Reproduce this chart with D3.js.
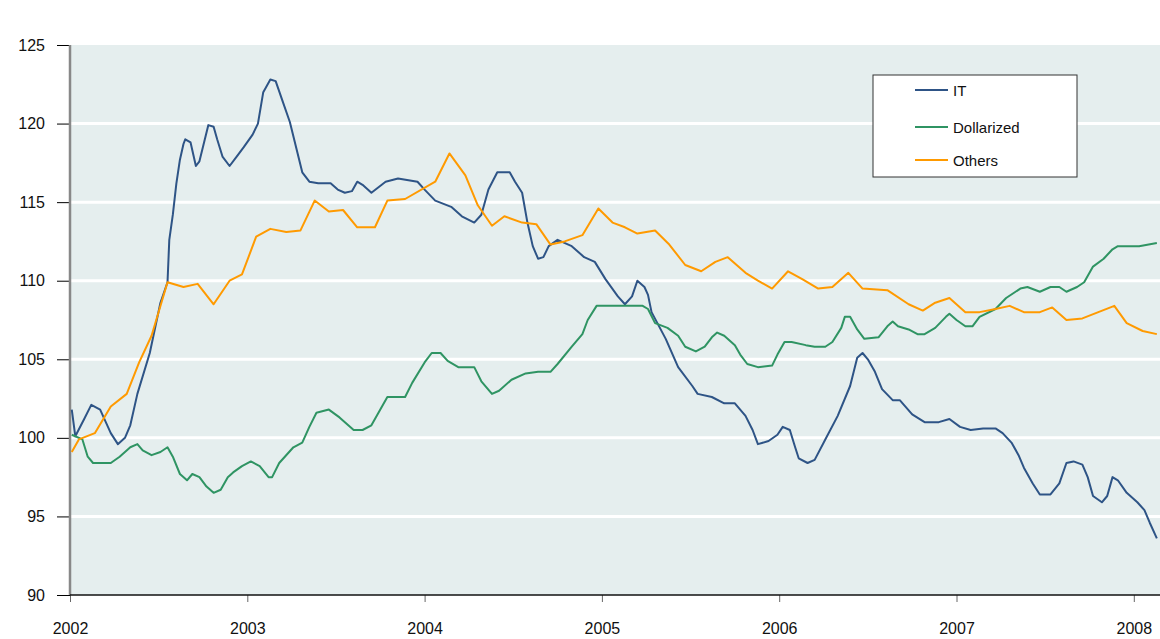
<!DOCTYPE html>
<html>
<head>
<meta charset="utf-8">
<script src="https://cdn.jsdelivr.net/npm/d3@7"></script>
<style>
  body { margin: 0; background: #fff; }
  svg text { font-family: "Liberation Sans", Arial, sans-serif; fill: #111; }
</style>
</head>
<body>
<div id="chart"></div>
<script>
// decimal years and index values
const itYears = [2002.01,2002.03,2002.08,2002.12,2002.17,2002.23,2002.27,2002.31,2002.34,2002.38,2002.45,2002.51,2002.55,2002.56,2002.58,2002.60,2002.62,2002.64,2002.65,2002.68,2002.71,2002.73,2002.78,2002.81,2002.83,2002.86,2002.90,2002.94,2002.98,2003.03,2003.06,2003.09,2003.13,2003.16,2003.20,2003.24,2003.31,2003.35,2003.40,2003.47,2003.51,2003.55,2003.59,2003.62,2003.65,2003.70,2003.78,2003.85,2003.96,2004.00,2004.06,2004.15,2004.21,2004.28,2004.32,2004.36,2004.41,2004.48,2004.51,2004.55,2004.58,2004.61,2004.64,2004.67,2004.70,2004.75,2004.83,2004.90,2004.96,2005.02,2005.09,2005.13,2005.17,2005.20,2005.24,2005.26,2005.28,2005.36,2005.43,2005.51,2005.54,2005.62,2005.69,2005.75,2005.81,2005.85,2005.88,2005.94,2005.99,2006.02,2006.06,2006.09,2006.11,2006.16,2006.20,2006.26,2006.33,2006.40,2006.44,2006.47,2006.50,2006.54,2006.58,2006.64,2006.68,2006.75,2006.82,2006.90,2006.96,2007.02,2007.08,2007.15,2007.22,2007.26,2007.31,2007.35,2007.38,2007.43,2007.47,2007.53,2007.58,2007.62,2007.66,2007.71,2007.74,2007.77,2007.82,2007.85,2007.88,2007.91,2007.96,2008.02,2008.06,2008.09,2008.13];
const itValues = [101.8,100.1,101.2,102.1,101.8,100.3,99.6,100.0,100.8,102.8,105.4,108.6,109.9,112.6,114.2,116.2,117.7,118.7,119.0,118.8,117.3,117.6,119.9,119.8,119.0,117.9,117.3,117.9,118.5,119.3,120.0,122.0,122.8,122.7,121.4,120.1,116.9,116.3,116.2,116.2,115.8,115.6,115.7,116.3,116.1,115.6,116.3,116.5,116.3,115.8,115.1,114.7,114.1,113.7,114.2,115.8,116.9,116.9,116.3,115.6,113.7,112.2,111.4,111.5,112.2,112.6,112.2,111.5,111.2,110.1,109.0,108.5,109.0,110.0,109.6,109.1,108.0,106.3,104.5,103.3,102.8,102.6,102.2,102.2,101.4,100.5,99.6,99.8,100.2,100.7,100.5,99.4,98.7,98.4,98.6,99.9,101.4,103.3,105.1,105.4,105.0,104.2,103.1,102.4,102.4,101.5,101.0,101.0,101.2,100.7,100.5,100.6,100.6,100.3,99.7,98.9,98.1,97.1,96.4,96.4,97.1,98.4,98.5,98.3,97.5,96.3,95.9,96.3,97.5,97.3,96.5,95.9,95.4,94.6,93.6];

const dolYears = [2002.01,2002.07,2002.10,2002.13,2002.23,2002.28,2002.34,2002.38,2002.41,2002.46,2002.51,2002.55,2002.58,2002.62,2002.66,2002.69,2002.73,2002.77,2002.81,2002.85,2002.89,2002.92,2002.97,2003.02,2003.07,2003.12,2003.14,2003.18,2003.26,2003.31,2003.35,2003.39,2003.46,2003.52,2003.60,2003.65,2003.70,2003.79,2003.89,2003.93,2004.00,2004.04,2004.09,2004.13,2004.19,2004.28,2004.32,2004.38,2004.42,2004.49,2004.57,2004.64,2004.71,2004.75,2004.83,2004.89,2004.92,2004.97,2005.03,2005.17,2005.23,2005.26,2005.30,2005.37,2005.43,2005.47,2005.53,2005.58,2005.62,2005.65,2005.69,2005.75,2005.78,2005.82,2005.88,2005.96,2005.99,2006.03,2006.07,2006.15,2006.20,2006.26,2006.30,2006.35,2006.37,2006.40,2006.44,2006.48,2006.56,2006.61,2006.64,2006.67,2006.73,2006.78,2006.82,2006.88,2006.94,2006.96,2007.00,2007.05,2007.09,2007.13,2007.22,2007.28,2007.36,2007.40,2007.47,2007.53,2007.58,2007.62,2007.68,2007.72,2007.77,2007.83,2007.88,2007.91,2008.03,2008.13];
const dolValues = [100.2,99.9,98.8,98.4,98.4,98.8,99.4,99.6,99.2,98.9,99.1,99.4,98.8,97.7,97.3,97.7,97.5,96.9,96.5,96.7,97.5,97.8,98.2,98.5,98.2,97.5,97.5,98.4,99.4,99.7,100.7,101.6,101.8,101.3,100.5,100.5,100.8,102.6,102.6,103.5,104.8,105.4,105.4,104.9,104.5,104.5,103.6,102.8,103.0,103.7,104.1,104.2,104.2,104.7,105.8,106.6,107.5,108.4,108.4,108.4,108.4,108.2,107.3,107.0,106.5,105.8,105.5,105.8,106.4,106.7,106.5,105.9,105.3,104.7,104.5,104.6,105.3,106.1,106.1,105.9,105.8,105.8,106.1,107.0,107.7,107.7,106.9,106.3,106.4,107.1,107.4,107.1,106.9,106.6,106.6,107.0,107.7,107.9,107.5,107.1,107.1,107.7,108.2,108.9,109.5,109.6,109.3,109.6,109.6,109.3,109.6,109.9,110.9,111.4,112.0,112.2,112.2,112.4];

const othYears = [2002.01,2002.05,2002.14,2002.23,2002.32,2002.39,2002.46,2002.55,2002.64,2002.72,2002.81,2002.90,2002.97,2003.05,2003.13,2003.22,2003.30,2003.38,2003.46,2003.54,2003.62,2003.72,2003.79,2003.89,2004.06,2004.14,2004.23,2004.30,2004.38,2004.45,2004.55,2004.63,2004.71,2004.79,2004.89,2004.98,2005.06,2005.13,2005.20,2005.30,2005.38,2005.47,2005.56,2005.64,2005.71,2005.81,2005.88,2005.96,2006.05,2006.13,2006.22,2006.30,2006.39,2006.47,2006.61,2006.73,2006.81,2006.88,2006.96,2007.05,2007.13,2007.22,2007.30,2007.38,2007.47,2007.54,2007.62,2007.71,2007.89,2007.96,2008.05,2008.13];
const othValues = [99.1,99.9,100.3,102.0,102.8,104.8,106.5,109.9,109.6,109.8,108.5,110.0,110.4,112.8,113.3,113.1,113.2,115.1,114.4,114.5,113.4,113.4,115.1,115.2,116.3,118.1,116.7,114.8,113.5,114.1,113.7,113.6,112.3,112.5,112.9,114.6,113.7,113.4,113.0,113.2,112.3,111.0,110.6,111.2,111.5,110.5,110.0,109.5,110.6,110.1,109.5,109.6,110.5,109.5,109.4,108.5,108.1,108.6,108.9,108.0,108.0,108.2,108.4,108.0,108.0,108.3,107.5,107.6,108.4,107.3,106.8,106.6];

const yearTicks = [2002, 2003, 2004, 2005, 2006, 2007, 2008];
const valueTicks = [90, 95, 100, 105, 110, 115, 120, 125];
const seriesNames = ["IT", "Dollarized", "Others"];
const seriesColors = ["#2e5486", "#2f9463", "#ff9a00"];

const W = 1160, H = 639;
const margin = {top: 45, right: 0, bottom: 44, left: 70};
const width = W - margin.left - margin.right;
const height = H - margin.top - margin.bottom;

const svg = d3.select("#chart").append("svg")
    .attr("width", W).attr("height", H);
const g = svg.append("g")
    .attr("transform", "translate(" + margin.left + "," + margin.top + ")");

const x = d3.scaleLinear().domain([2002, 2002 + width / 177.3]).range([0, width]);
const y = d3.scaleLinear().domain([90, 125]).range([height, 0]);

// plot background
g.append("rect").attr("width", width).attr("height", height).attr("fill", "#e5eeee");

// white gridlines
g.selectAll(".grid").data(valueTicks.filter(v => v > 90 && v < 125))
  .enter().append("line")
    .attr("x1", 0).attr("x2", width)
    .attr("y1", d => y(d)).attr("y2", d => y(d))
    .attr("stroke", "#fff").attr("stroke-width", 3);

// y axis
const yAxis = g.append("g")
    .call(d3.axisLeft(y).tickValues(valueTicks).tickSize(13).tickPadding(12).tickFormat(d3.format("d")));
yAxis.select(".domain").remove();
yAxis.selectAll("text").style("font-size", "16px");
g.append("line").attr("x1", 0).attr("x2", 0).attr("y1", 0).attr("y2", height)
    .attr("stroke", "#888").attr("stroke-width", 2.5);

// x axis
const xAxis = g.append("g").attr("transform", "translate(0," + height + ")")
    .call(d3.axisBottom(x).tickValues(yearTicks).tickSize(7).tickPadding(21).tickFormat(d3.format("d")));
xAxis.select(".domain").remove();
xAxis.selectAll(".tick line").attr("stroke", "#666");
xAxis.selectAll("text").style("font-size", "16px");
g.append("line").attr("x1", 0).attr("x2", width).attr("y1", height).attr("y2", height)
    .attr("stroke", "#111").attr("stroke-width", 1.5);

// series
const series = [
  {name: seriesNames[0], years: itYears, values: itValues, color: seriesColors[0]},
  {name: seriesNames[1], years: dolYears, values: dolValues, color: seriesColors[1]},
  {name: seriesNames[2], years: othYears, values: othValues, color: seriesColors[2]}
];
const line = d3.line().x(d => x(d[0])).y(d => y(d[1]));
series.forEach(s => {
  g.append("path")
    .datum(s.years.map((yr, i) => [yr, s.values[i]]))
    .attr("d", line)
    .attr("fill", "none")
    .attr("stroke", s.color)
    .attr("stroke-width", 2)
    .attr("stroke-linejoin", "round");
});

// legend
const legend = svg.append("g").attr("transform", "translate(873,75)");
legend.append("rect").attr("width", 204).attr("height", 102)
    .attr("fill", "#fff").attr("stroke", "#333").attr("stroke-width", 1);
const legendY = [15, 52, 85];
series.forEach((s, i) => {
  legend.append("line").attr("x1", 42).attr("x2", 75)
      .attr("y1", legendY[i]).attr("y2", legendY[i])
      .attr("stroke", s.color).attr("stroke-width", 2);
  legend.append("text").attr("x", 80).attr("y", legendY[i] + 6)
      .style("font-size", "15px").text(s.name);
});
</script>
</body>
</html>
